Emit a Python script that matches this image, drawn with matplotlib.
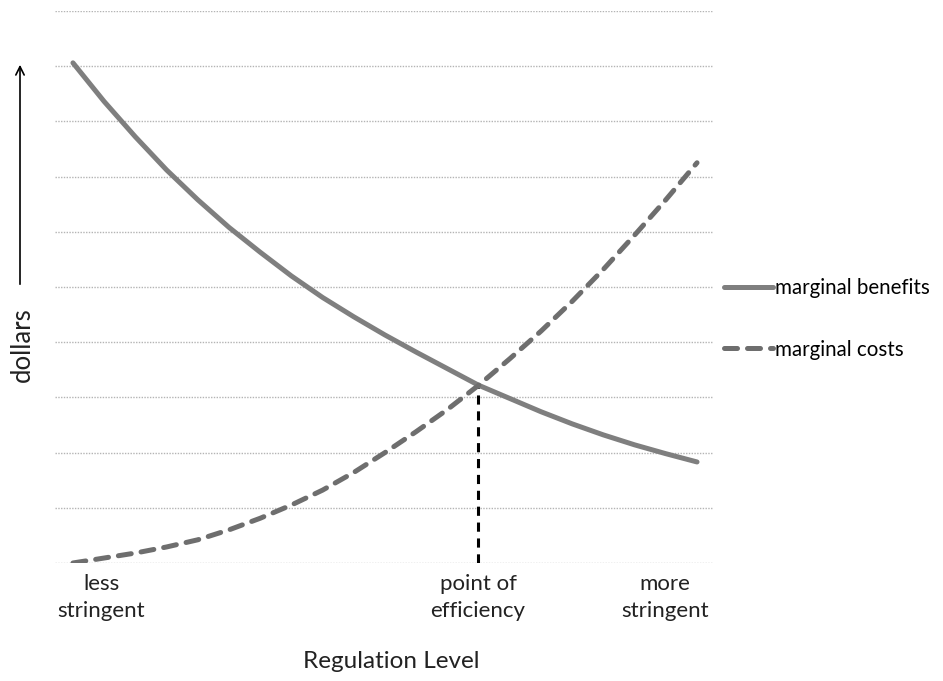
import matplotlib
matplotlib.use('Agg')
import matplotlib.pyplot as plt

# regulation level, 0 = less stringent, 1 = more stringent
levels = [0.0, 0.05, 0.1, 0.15, 0.2, 0.25, 0.3, 0.35, 0.4, 0.45, 0.5,
          0.55, 0.6, 0.65, 0.7, 0.75, 0.8, 0.85, 0.9, 0.95, 1.0]
benefits = [9.06, 8.36, 7.72, 7.12, 6.58, 6.08, 5.63, 5.2, 4.81, 4.46, 4.13,
            3.82, 3.52, 3.22, 2.98, 2.74, 2.52, 2.32, 2.14, 1.98, 1.83]
costs = [0.0, 0.09, 0.18, 0.29, 0.42, 0.6, 0.81, 1.05, 1.32, 1.64, 2.0,
         2.38, 2.78, 3.22, 3.7, 4.2, 4.74, 5.32, 5.94, 6.58, 7.25]
efficiency_x = 0.649
efficiency_y = 3.22
level_labels = ['less\nstringent', 'point of\nefficiency', 'more\nstringent']
level_label_x = [0.045, efficiency_x, 0.949]

plt.rcParams['font.family'] = ['Lato', 'DejaVu Sans']

fig = plt.figure(figsize=(9.43, 6.81), dpi=100)
ax = fig.add_axes([0.0583, 0.1733, 0.6978, 0.8106])

for y in range(0, 11):
    ax.axhline(y, color='#b4b4b4', linewidth=1.0, linestyle=(0, (1, 1)), zorder=1)

mb, = ax.plot(levels, benefits, color='#7f7f7f', linewidth=3.6,
              solid_capstyle='round', solid_joinstyle='round',
              label='marginal benefits', zorder=3)
mc, = ax.plot(levels, costs, color='#6e6e6e', linewidth=3.6,
              linestyle=(0, (2.6, 2.0)), dash_capstyle='round',
              label='marginal costs', zorder=3)
ax.plot([efficiency_x, efficiency_x], [0, efficiency_y], color='black',
        linewidth=2.2, linestyle=(0, (3, 2.2)), zorder=2)

ax.set_xlim(-0.0288, 1.0256)
ax.set_ylim(0, 10)
ax.set_xticks([])
ax.set_yticks([])
for s in ax.spines.values():
    s.set_visible(False)

for lx, lt in zip(level_label_x, level_labels):
    ax.text(lx, -0.2, lt, ha='center', va='top', fontsize=16,
            color='#222222', linespacing=1.42)

fig.text(391 / 943, 1 - 662 / 681, 'Regulation Level', ha='center', va='center',
         fontsize=17.5, color='#222222')
fig.text(22 / 943, 1 - 345 / 681, 'dollars', ha='center', va='center',
         rotation=90, fontsize=18.5, color='#222222')
fig.patches.append(matplotlib.patches.FancyArrowPatch(
    (20 / 943, 1 - 287 / 681), (20 / 943, 1 - 62 / 681),
    transform=fig.transFigure, arrowstyle='->,head_length=6,head_width=3',
    color='black', linewidth=1.2))

fig.legend(handles=[mb, mc], loc='center left', frameon=False,
           bbox_to_anchor=(724 / 943, 1 - 319 / 681), fontsize=14.8,
           borderpad=0, borderaxespad=0,
           handlelength=2.4, handletextpad=0.1, labelspacing=2.0)

fig.savefig('out.png', dpi=100)
